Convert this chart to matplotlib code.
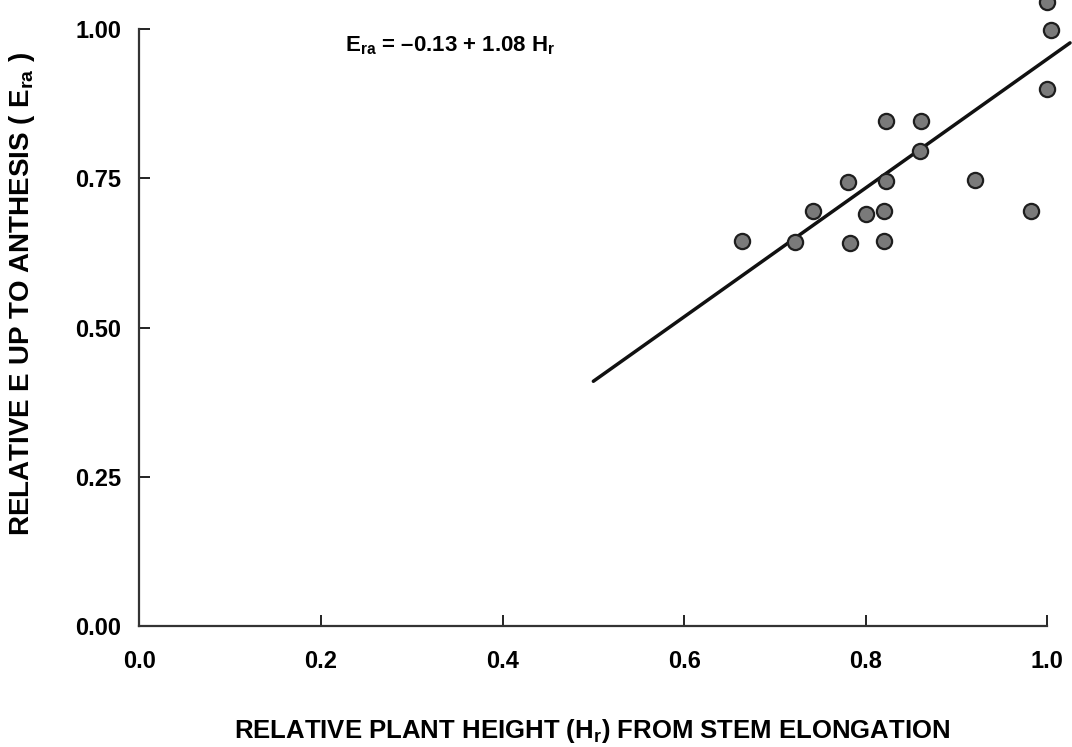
import matplotlib
matplotlib.use("Agg")
import matplotlib.pyplot as plt
import numpy as np

plt.rcParams['font.family'] = ['Liberation Sans', 'DejaVu Sans']
plt.rcParams['font.weight'] = 'bold'
# subscripts drawn in the same bold sans face as the rest of the text
plt.rcParams['mathtext.fontset'] = 'custom'
plt.rcParams['mathtext.rm'] = 'Liberation Sans:bold'
plt.rcParams['mathtext.bf'] = 'Liberation Sans:bold'
plt.rcParams['mathtext.it'] = 'Liberation Sans:bold'
plt.rcParams['mathtext.default'] = 'rm'

# relative plant height (H_r) and relative E up to anthesis (E_ra)
h_rel = [0.664, 0.722, 0.742, 0.781, 0.783, 0.800, 0.820, 0.820, 0.822, 0.822,
         0.860, 0.861, 0.920, 0.982, 1.000, 1.004, 1.000]
e_rel = [0.645, 0.644, 0.695, 0.744, 0.642, 0.691, 0.695, 0.645, 0.746, 0.846,
         0.796, 0.846, 0.747, 0.695, 0.900, 0.998, 1.046]

# regression  E_ra = a + b * H_r
intercept = -0.13
slope = 1.08
fit_range = [0.5, 1.025]

x_ticks = [0.0, 0.2, 0.4, 0.6, 0.8, 1.0]
y_ticks = [0.0, 0.25, 0.50, 0.75, 1.00]

fig = plt.figure(figsize=(10.72, 7.47), dpi=100)
ax = fig.add_axes([0.13, 0.162, 0.847, 0.799])

xs = np.array(fit_range)
ax.plot(xs, intercept + slope * xs, color='#111111', lw=2.5,
        solid_capstyle='round', clip_on=False, zorder=2)

ax.scatter(h_rel, e_rel, s=120, facecolor='#7a7a7a', edgecolor='#1e1e1e',
           linewidths=1.6, clip_on=False, zorder=3)

eq = r'$E_{ra}$ = ' + '\u2013' + r'0.13 + 1.08 $H_r$'
ax.text(0.227, 0.973, eq, fontsize=16, fontweight='bold', va='center', ha='left')

ax.set_xlim(0, 1.0)
ax.set_ylim(0, 1.0)
ax.set_xticks(x_ticks)
ax.set_xticklabels(['%.1f' % v for v in x_ticks])
ax.set_yticks(y_ticks)
ax.set_yticklabels(['%.2f' % v for v in y_ticks])

for side in ['top', 'right']:
    ax.spines[side].set_visible(False)
for side in ['left', 'bottom']:
    ax.spines[side].set_color('#333333')
    ax.spines[side].set_linewidth(1.6)

ax.tick_params(axis='both', direction='in', length=8, width=1.4,
               color='#222222', labelsize=17, pad=13)
ax.tick_params(axis='x', pad=17)

ax.set_xlabel(r'RELATIVE PLANT HEIGHT ($H_r$) FROM STEM ELONGATION',
              fontsize=18.5, fontweight='bold')
ax.xaxis.set_label_coords(0.499, -0.152)
ax.set_ylabel(r'RELATIVE E UP TO ANTHESIS ( $E_{ra}$ )',
              fontsize=20, fontweight='bold')
ax.yaxis.set_label_coords(-0.113, 0.556)

fig.savefig('out.png', dpi=100)
